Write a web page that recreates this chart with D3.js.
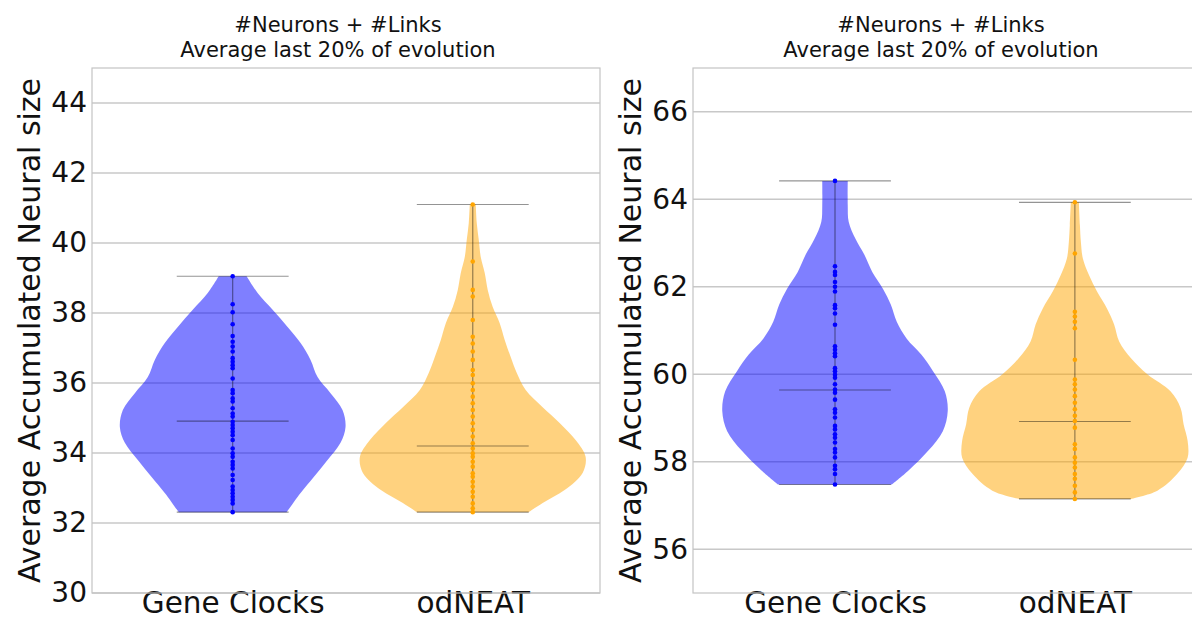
<!DOCTYPE html>
<html>
<head>
<meta charset="utf-8">
<script src="https://cdn.jsdelivr.net/npm/d3@7"></script>
<style>
  html, body { margin: 0; padding: 0; background: #fff; }
  svg { display: block; font-family: "DejaVu Sans", sans-serif; }
</style>
</head>
<body>
<svg id="chart" width="1192" height="621"></svg>
<script>
// ---------------- DATA ----------------
const categories = ["Gene Clocks", "odNEAT"];
const titleLines = ["#Neurons + #Links", "Average last 20% of evolution"];
const yLabelText = "Average Accumulated Neural size";

const leftTicks = [30, 32, 34, 36, 38, 40, 42, 44];
const rightTicks = [56, 58, 60, 62, 64, 66];

// individual run values (dots)
const leftGeneClocksValues = [39.05, 38.25, 38.02, 37.68, 37.34, 37.18, 37.04, 36.9, 36.71, 36.61, 36.51, 36.42,
  36.13, 35.8, 35.71, 35.56, 35.47, 35.28, 35.13, 35.04, 34.89, 34.8, 34.71, 34.61, 34.51, 34.37, 34.13,
  33.99, 33.89, 33.75, 33.66, 33.56, 33.37, 33.23, 33.04, 32.94, 32.85, 32.75, 32.66, 32.56, 32.31];
const leftOdneatValues = [41.1, 39.47, 38.66, 38.47, 37.8, 37.32, 37.13, 36.9, 36.66, 36.37, 36.23, 35.99,
  35.8, 35.61, 35.42, 35.23, 35.04, 34.85, 34.66, 34.47, 34.28, 34.13, 33.99, 33.89, 33.75, 33.61, 33.42,
  33.32, 33.18, 33.04, 32.89, 32.75, 32.56, 32.42, 32.31];
const rightGeneClocksValues = [64.42, 62.47, 62.34, 62.27, 62.11, 62.0, 61.89, 61.58, 61.51, 61.39, 61.13,
  60.64, 60.56, 60.48, 60.41, 60.14, 60.07, 59.99, 59.92, 59.77, 59.65, 59.58, 59.42, 59.2, 59.12, 59.01,
  58.82, 58.74, 58.63, 58.55, 58.44, 58.29, 58.21, 58.1, 57.91, 57.83, 57.72, 57.48];
const rightOdneatValues = [63.93, 62.76, 61.43, 61.32, 61.2, 61.05, 60.33, 59.88, 59.77, 59.65, 59.5, 59.35,
  59.2, 59.05, 58.93, 58.78, 58.4, 58.29, 58.1, 57.98, 57.87, 57.72, 57.61, 57.45, 57.3, 57.15];

// mean lines
const leftMeans = [34.91, 34.2];
const rightMeans = [59.64, 58.92];

// violin density profiles (value, relative density)
const leftGeneClocksProfileV = [39.05, 38.57, 38.09, 37.6, 37.14, 36.66, 36.17, 35.71, 35.23, 34.74, 34.29, 33.8, 33.31, 32.86, 32.31];
const leftGeneClocksProfileD = [14, 25, 40, 55, 68, 78, 85, 98, 110, 113, 108, 95, 81, 68, 54];
const leftOdneatProfileV = [41.1, 40.57, 40.09, 39.6, 39.14, 38.66, 38.17, 37.71, 37.23, 36.74, 36.29, 35.8, 35.31, 34.86, 34.37, 33.89, 33.43, 32.94, 32.57, 32.31];
const leftOdneatProfileD = [3, 4, 6, 8, 12, 15, 20, 27, 32, 38, 44, 53, 70, 87, 103, 113, 110, 92, 70, 56];
const rightGeneClocksProfileV = [64.42, 63.86, 63.48, 63.09, 62.73, 62.34, 61.95, 61.59, 61.2, 60.82, 60.45, 60.07, 59.61, 59.16, 58.7, 58.25, 57.8, 57.48];
const rightGeneClocksProfileD = [13, 13, 14, 21, 30, 38, 49, 57, 63, 73, 88, 100, 112, 115, 110, 95, 75, 58];
const rightOdneatProfileV = [63.93, 63.41, 63.02, 62.64, 62.27, 61.89, 61.5, 61.14, 60.75, 60.36, 60.0, 59.61, 59.23, 58.86, 58.48, 58.09, 57.73, 57.34, 57.15];
const rightOdneatProfileD = [4, 5, 6, 8, 14, 22, 32, 39, 44, 56, 72, 95, 105, 108, 112, 112, 102, 82, 55];

// ---------------- DRAW ----------------
const svg = d3.select("#chart");
const colors = ["#0000ff", "#ffa500"];

const panels = [
  { left: 92, right: 600, top: 68, bottom: 593, xDomain: [0.414, 2.53], yDomain: [30, 45], ticks: leftTicks,
    titleX: 338, yLabelX: 29,
    values: [leftGeneClocksValues, leftOdneatValues], means: leftMeans,
    profiles: [[leftGeneClocksProfileV, leftGeneClocksProfileD], [leftOdneatProfileV, leftOdneatProfileD]] },
  { left: 693, right: 1202, top: 68, bottom: 593, xDomain: [0.408, 2.53], yDomain: [55, 67], ticks: rightTicks,
    titleX: 941, yLabelX: 630,
    values: [rightGeneClocksValues, rightOdneatValues], means: rightMeans,
    profiles: [[rightGeneClocksProfileV, rightGeneClocksProfileD], [rightOdneatProfileV, rightOdneatProfileD]] }
];

const halfViolin = 0.47;   // x-units
const halfCap = 0.233;     // x-units

panels.forEach(p => {
  const x = d3.scaleLinear().domain(p.xDomain).range([p.left, p.right]);
  const y = d3.scaleLinear().domain(p.yDomain).range([p.bottom, p.top]);
  const g = svg.append("g");

  // grid
  g.append("g").selectAll("line").data(p.ticks).join("line")
    .attr("x1", p.left).attr("x2", p.right)
    .attr("y1", d => y(d)).attr("y2", d => y(d))
    .attr("stroke", "#c8c8c8").attr("stroke-width", 1.3);

  // y axis labels
  const yAxis = d3.axisLeft(y).tickValues(p.ticks).tickSize(0).tickPadding(5).tickFormat(d3.format("d"));
  const ya = g.append("g").attr("transform", `translate(${p.left},0)`).call(yAxis);
  ya.select(".domain").remove();
  ya.selectAll("text").attr("font-size", 28).attr("fill", "#111")
    .attr("font-family", "DejaVu Sans, sans-serif");

  // x axis labels
  const xAxis = d3.axisBottom(x).tickValues([1, 2]).tickSize(0).tickPadding(0)
    .tickFormat((d, i) => categories[i]);
  const xa = g.append("g").attr("transform", `translate(0,${p.bottom})`).call(xAxis);
  xa.select(".domain").remove();
  xa.selectAll("text").attr("font-size", 29.5).attr("fill", "#111")
    .attr("y", 20).attr("dy", null)
    .attr("font-family", "DejaVu Sans, sans-serif");

  // violins
  p.profiles.forEach((prof, i) => {
    const [vs, ds] = prof;
    const maxD = d3.max(ds);
    const w = d3.scaleLinear().domain([0, maxD]).range([0, x(1 + halfViolin) - x(1)]);
    const pts = vs.map((v, k) => ({ v, d: ds[k] }));
    const cx = x(i + 1);
    const area = d3.area()
      .y(d => y(d.v))
      .x0(d => cx - w(d.d))
      .x1(d => cx + w(d.d))
      .curve(d3.curveCatmullRom.alpha(0.5));
    g.append("path").datum(pts).attr("d", area)
      .attr("fill", colors[i]).attr("fill-opacity", 0.5).attr("stroke", "none");
  });

  // stat lines
  p.values.forEach((vals, i) => {
    const c = i + 1;
    const mn = d3.min(vals), mx = d3.max(vals);
    const lineG = g.append("g").attr("stroke", "#000").attr("stroke-opacity", 0.42).attr("stroke-width", 1.2);
    lineG.append("line").attr("x1", x(c)).attr("x2", x(c)).attr("y1", y(mn)).attr("y2", y(mx));
    [mn, mx, p.means[i]].forEach(v => {
      lineG.append("line").attr("x1", x(c - halfCap)).attr("x2", x(c + halfCap))
        .attr("y1", y(v)).attr("y2", y(v));
    });
  });

  // dots
  p.values.forEach((vals, i) => {
    g.append("g").selectAll("circle").data(vals).join("circle")
      .attr("cx", x(i + 1)).attr("cy", d => y(d)).attr("r", 2.3)
      .attr("fill", colors[i]);
  });

  // frame
  g.append("rect").attr("x", p.left).attr("y", p.top)
    .attr("width", p.right - p.left).attr("height", p.bottom - p.top)
    .attr("fill", "none").attr("stroke", "#c4c4c4").attr("stroke-width", 1.2);

  // title
  const t = g.append("text").attr("text-anchor", "middle").attr("font-size", 21).attr("fill", "#111");
  t.append("tspan").attr("x", p.titleX).attr("y", 32).text(titleLines[0]);
  t.append("tspan").attr("x", p.titleX).attr("y", 57).text(titleLines[1]);

  // y label
  g.append("text")
    .attr("transform", `translate(${p.yLabelX},${(p.top + p.bottom) / 2}) rotate(-90)`)
    .attr("text-anchor", "middle").attr("dominant-baseline", "central")
    .attr("font-size", 30).attr("fill", "#111")
    .text(yLabelText);
});
</script>
</body>
</html>
